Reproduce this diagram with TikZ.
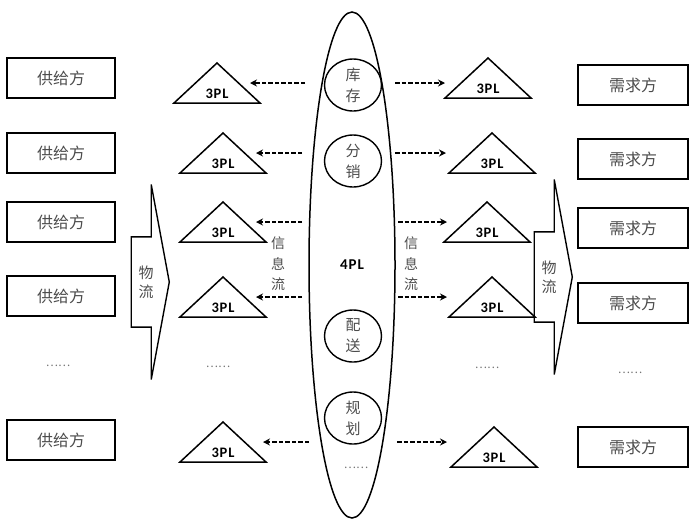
\documentclass[tikz,border=0pt]{standalone}
\usepackage{fontspec}
\setmainfont{Liberation Serif}
\newfontfamily\cjk{Noto Sans CJK SC}
\newfontfamily\plfont[LetterSpace=6]{Carlito}
\usetikzlibrary{positioning,arrows.meta,shapes.geometric,shapes.arrows}
\tikzset{
  party/.style={rectangle, draw=black, line width=1.8pt, minimum width=108pt, minimum height=40pt,
                inner sep=0pt, font=\cjk\fontsize{16}{18}\selectfont, text=black!70},
  func/.style={ellipse, draw=black, line width=1.4pt, minimum width=57pt, minimum height=52pt,
               inner sep=0pt, align=center, font=\cjk\fontsize{15}{21}\selectfont, text=black!70},
  hub/.style={ellipse, draw=black, line width=1.5pt, minimum width=86pt, minimum height=506pt,
              inner sep=0pt, font=\plfont\bfseries\fontsize{15}{17}\selectfont},
  info/.style={align=center, inner sep=0pt, font=\cjk\fontsize{14}{20.5}\selectfont, text=black!70},
  dots/.style={inner sep=0pt, font=\cjk\fontsize{11.5}{12}\selectfont, text=black!55},
  arr/.style={-{Stealth[length=7pt, width=7pt]}, line width=1.3pt, dash pattern=on 4.5pt off 2pt},
  flow/.style={single arrow, draw=black, line width=1.4pt, single arrow tip angle=159,
               single arrow head extend=52.5pt, minimum height=38pt, inner xsep=2pt, inner ysep=28pt,
               align=center, font=\cjk\fontsize{15}{19}\selectfont, text=black!70},
  tpl/.pic={
    \draw[line width=1.5pt, line join=miter] (-43,20) -- (43,20) -- (0,-20) -- cycle;
    \node[font=\plfont\bfseries\fontsize{14.5}{16}\selectfont, inner sep=0pt] (-lab) at (0,11) {3PL};
    \coordinate (-c) at (0,0);
  },
}

\begin{document}
\begin{tikzpicture}[x=1pt, y=-1pt]
  \useasboundingbox (0,0) rectangle (700,531);
  % 4PL hub
  \node[hub] (fpl) at (352,265) {4PL};
  \node[func] (kc) at (353,85) {库\\存};
  \node[func] (fx) at (353,161) {分\\销};
  \node[func] (ps) at (353,336) {配\\送};
  \node[func] (gh) at (353,418) {规\\划};
  \node[dots] (hd) at (356,468) {……};
  % suppliers
  \node[party] (s1) at (61,78) {供给方};
  \node[party] (s2) at (61,153) {供给方};
  \node[party] (s3) at (61,222) {供给方};
  \node[party] (s4) at (61,296) {供给方};
  \node[dots] (sd) at (58,366) {……};
  \node[party] (s6) at (61,440) {供给方};
  % demanders
  \node[party, minimum width=110pt] (d1) at (633,85) {需求方};
  \node[party, minimum width=110pt] (d2) at (633,159) {需求方};
  \node[party, minimum width=110pt] (d3) at (633,228) {需求方};
  \node[party, minimum width=110pt] (d4) at (633,303) {需求方};
  \node[dots] (dd) at (630,373) {……};
  \node[party, minimum width=110pt] (d6) at (633,447) {需求方};
  % 3PL
  \pic (lt1) at (217,83) {tpl};
  \pic (lt2) at (223,153) {tpl};
  \pic (lt3) at (223,222) {tpl};
  \pic (lt4) at (223,297) {tpl};
  \node[dots] (ltd) at (218,367) {……};
  \pic (lt6) at (223,442) {tpl};
  \pic (rt1) at (488,78) {tpl};
  \pic (rt2) at (492,153) {tpl};
  \pic (rt3) at (487,222) {tpl};
  \pic (rt4) at (492,297) {tpl};
  \node[dots] (rtd) at (487,368) {……};
  \pic (rt6) at (494,447) {tpl};
  % information flow
  \draw[arr] ([xshift=-47pt]fpl.center |- lt1-c) -- ([xshift=33pt]lt1-c);
  \draw[arr] ([xshift=-50pt]fpl.center |- lt2-c) -- ([xshift=33pt]lt2-c);
  \draw[arr] ([xshift=-50pt]fpl.center |- lt3-c) -- ([xshift=33pt]lt3-c);
  \draw[arr] ([xshift=-50pt]fpl.center |- lt4-c) -- ([xshift=33pt]lt4-c);
  \draw[arr] ([xshift=-43pt]fpl.center |- lt6-c) -- ([xshift=40pt]lt6-c);
  \draw[arr] ([xshift=43pt]fpl.center |- lt1-c) -- ([xshift=-43pt]rt1-c |- lt1-c);
  \draw[arr] ([xshift=43pt]fpl.center |- lt2-c) -- ([xshift=-46pt]rt2-c |- lt2-c);
  \draw[arr] ([xshift=46pt]fpl.center |- lt3-c) -- ([xshift=-40pt]rt3-c |- lt3-c);
  \draw[arr] ([xshift=46pt]fpl.center |- lt4-c) -- ([xshift=-45pt]rt4-c |- lt4-c);
  \draw[arr] ([xshift=45pt]fpl.center |- lt6-c) -- ([xshift=-47pt]rt6-c |- lt6-c);
  \node[info] (il) at (278,264) {信\\息\\流};
  \node[info] (ir) at (411,264) {信\\息\\流};
  % material flow
  \node[flow, anchor=tip] (wl) at (170,282) {物\\流};
  \node[flow, anchor=tip] (wr) at (573,277) {物\\流};
\end{tikzpicture}
\end{document}
